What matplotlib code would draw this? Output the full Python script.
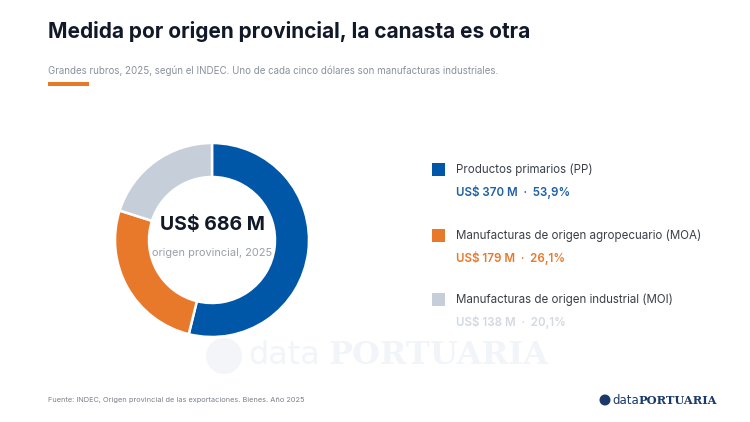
import matplotlib
matplotlib.use("Agg")
import matplotlib.pyplot as plt
from matplotlib.patches import Rectangle, Ellipse

categories = ["Productos primarios (PP)",
              "Manufacturas de origen agropecuario (MOA)",
              "Manufacturas de origen industrial (MOI)"]
values = [370, 179, 138]
percents = ["53,9%", "26,1%", "20,1%"]
total_label = "US$ 686 M"
colors = ["#0057A8", "#E8792B", "#C5CED9"]
value_colors = ["#1F5FA6", "#E8792B", "#D3D9E1"]

W, H = 750, 422
fig = plt.figure(figsize=(W / 100, H / 100), dpi=100)
fig.patch.set_facecolor("white")
FONT = "Inter"

def px(x, y):
    return x / W, 1 - y / H

def dot(x, y, rad, color, z=1):
    fig.patches.append(Ellipse(px(x, y), 2 * rad / W, 2 * rad / H, transform=fig.transFigure,
                               color=color, lw=0, zorder=z))

# Watermark (drawn first, very faint)
dot(224, 356, 18, "#F3F5F9", 0)
fig.text(*px(248, 356), "data", fontsize=23, color="#F1F4F8", family="DejaVu Sans",
         va="center", ha="left", zorder=0)
fig.text(*px(328, 356), "PORTUARIA", fontsize=23, color="#F1F4F8", family="DejaVu Serif",
         fontweight="bold", va="center", ha="left", zorder=0)

# Title and subtitle
fig.text(*px(48, 32), "Medida por origen provincial, la canasta es otra", fontsize=15,
         fontweight="bold", color="#111827", family=FONT, va="center", ha="left")
fig.text(*px(48, 71), "Grandes rubros, 2025, según el INDEC. Uno de cada cinco dólares son manufacturas industriales.",
         fontsize=7.0, color="#8A919C", family=FONT, va="center", ha="left")
fig.patches.append(Rectangle(px(48, 85.5), 41 / W, 3 / H, transform=fig.transFigure,
                             color="#E8792B", lw=0))

# Donut
cx, cy, R, r = 212, 240, 97, 63
ax = fig.add_axes([(cx - R) / W, (H - cy - R) / H, 2 * R / W, 2 * R / H])
ax.pie(values, colors=colors, startangle=90, counterclock=False, radius=1,
       wedgeprops=dict(width=1 - r / R, edgecolor="white", linewidth=1.8))
ax.set_xlim(-1, 1)
ax.set_ylim(-1, 1)
ax.set_aspect("equal")
ax.axis("off")
ax.text(0, 0.15, total_label, ha="center", va="center", fontsize=14, fontweight="bold",
        color="#111827", family=FONT)
ax.text(0, -0.13, "origen provincial, 2025", ha="center", va="center", fontsize=7.9,
        color="#9AA0A8", family=FONT)

# Legend
rows = [170, 236, 300]
for i, y in enumerate(rows):
    fig.patches.append(Rectangle(px(432, y + 6), 13 / W, 13 / H, transform=fig.transFigure,
                                 color=colors[i], lw=0))
    fig.text(*px(456, y), categories[i], fontsize=8.3, color="#3A4048", family=FONT,
             va="center", ha="left")
    fig.text(*px(456, y + 22), f"US$ {values[i]} M  ·  {percents[i]}", fontsize=8.3,
             color=value_colors[i], family=FONT, fontweight="semibold", va="center", ha="left")

# Footer
fig.text(*px(48, 400), "Fuente: INDEC, Origen provincial de las exportaciones. Bienes. Año 2025",
         fontsize=5.3, color="#7A808A", family=FONT, va="center", ha="left")
dot(605, 400, 5.5, "#1B3A6B")
fig.text(*px(612, 400), "data", fontsize=8.5, color="#1B3A6B", family="DejaVu Sans",
         va="center", ha="left")
fig.text(*px(638, 400), "PORTUARIA", fontsize=8.2, color="#1B3A6B", family="DejaVu Serif",
         fontweight="bold", va="center", ha="left")

fig.savefig("out.png", dpi=100, facecolor="white")
